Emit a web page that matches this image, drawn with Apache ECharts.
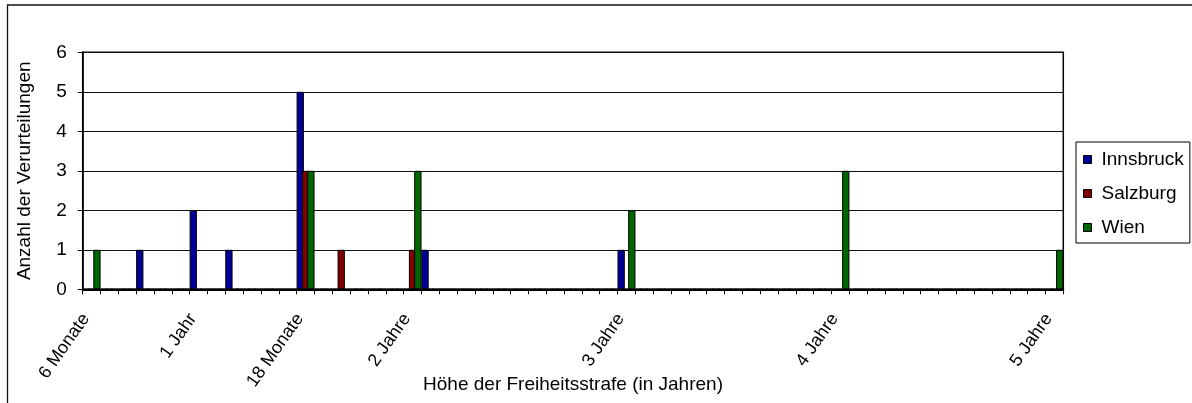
<!DOCTYPE html>
<html>
<head>
<meta charset="utf-8">
<script src="https://cdn.jsdelivr.net/npm/echarts@6/dist/echarts.min.js"></script>
<style>
html,body{margin:0;padding:0;background:#fff;}
#chart{width:1192px;height:403px;}
</style>
</head>
<body>
<div id="chart"></div>
<script>
// Categories: sentence length in months
const months = [6,7,8,9,10,11,12,13,14,15,16,17,18,19,20,21,22,23,24,25,26,27,28,29,30,31,32,33,34,35,36,37,38,39,40,41,42,43,44,45,46,47,48,49,50,51,52,53,54,55,56,57,58,59,60];
// Tick labels shown on the category axis
const labelMonths = [6,12,18,24,36,48,60];
const labelTexts = ['6 Monate','1 Jahr','18 Monate','2 Jahre','3 Jahre','4 Jahre','5 Jahre'];
// Series values (one per month category)
const innsbruck = [0,0,0,1,0,0,2,0,1,0,0,0,5,0,0,0,0,0,0,1,0,0,0,0,0,0,0,0,0,0,1,0,0,0,0,0,0,0,0,0,0,0,0,0,0,0,0,0,0,0,0,0,0,0,0];
const salzburg  = [0,0,0,0,0,0,0,0,0,0,0,0,3,0,1,0,0,0,1,0,0,0,0,0,0,0,0,0,0,0,0,0,0,0,0,0,0,0,0,0,0,0,0,0,0,0,0,0,0,0,0,0,0,0,0];
const wien      = [1,0,0,0,0,0,0,0,0,0,0,0,3,0,0,0,0,0,3,0,0,0,0,0,0,0,0,0,0,0,2,0,0,0,0,0,0,0,0,0,0,0,3,0,0,0,0,0,0,0,0,0,0,0,1];
const seriesNames = ['Innsbruck','Salzburg','Wien'];
const seriesColors = ['#000099','#800000','#006600'];
const yTicks = [0,1,2,3,4,5,6];

const FONT = "'Liberation Sans', Arial, sans-serif";
const chart = echarts.init(document.getElementById('chart'), null, {renderer:'canvas'});
const valuesList = [innsbruck, salzburg, wien];

chart.setOption({
  animation: false,
  backgroundColor: '#fff',
  textStyle: {fontFamily: FONT, color: '#000'},
  graphic: [{
    type: 'rect', silent: true, z: -10,
    shape: {x: 7.5, y: 5, width: 1300, height: 500},
    style: {fill: 'none', stroke: '#111', lineWidth: 1.3}
  }],
  grid: {
    left: 82.7, right: 128.7, top: 52.3, bottom: 113.7,
    containLabel: false,
    outerBoundsMode: 'none',
    show: true, borderColor: '#000', borderWidth: 1.5, backgroundColor: '#fff'
  },
  legend: {
    orient: 'vertical',
    left: 1076, top: 142,
    data: seriesNames,
    icon: 'rect',
    itemWidth: 8, itemHeight: 8,
    itemGap: 15,
    padding: [8, 6, 6, 7],
    backgroundColor: '#fff',
    borderColor: '#000', borderWidth: 1,
    itemStyle: {borderColor: '#000', borderWidth: 1},
    textStyle: {fontFamily: FONT, fontSize: 19, color: '#000', padding: [0,0,0,5]}
  },
  xAxis: {
    type: 'category',
    data: months,
    name: 'Höhe der Freiheitsstrafe (in Jahren)',
    nameLocation: 'middle',
    nameGap: 86,
    nameMoveOverlap: false,
    nameTextStyle: {fontFamily: FONT, fontSize: 19, color: '#000'},
    axisLine: {show: true, lineStyle: {color: '#000', width: 2}},
    axisTick: {show: true, interval: 0, alignWithLabel: false, length: 5, lineStyle: {color: '#000', width: 1}},
    axisLabel: {
      interval: 0, rotate: 55, margin: 18,
      hideOverlap: false,
      padding: [0, 10, 0, 0],
      fontFamily: FONT, fontSize: 18, color: '#000',
      formatter: function (v) {
        const i = labelMonths.indexOf(Number(v));
        return i >= 0 ? labelTexts[i] : '';
      }
    },
    splitLine: {show: false}
  },
  yAxis: {
    type: 'value',
    min: yTicks[0], max: yTicks[yTicks.length - 1], interval: 1,
    name: 'Anzahl der Verurteilungen',
    nameLocation: 'middle',
    nameGap: 48,
    nameMoveOverlap: false,
    nameTextStyle: {fontFamily: FONT, fontSize: 19, color: '#000'},
    axisLine: {show: true, lineStyle: {color: '#000', width: 1.5}},
    axisTick: {show: true, length: 5, lineStyle: {color: '#000', width: 1}},
    axisLabel: {margin: 16, fontFamily: FONT, fontSize: 19, color: '#000'},
    splitLine: {show: true, lineStyle: {color: '#111', width: 1}}
  },
  series: seriesNames.map(function (name, k) {
    return {
      name: name,
      type: 'bar',
      data: valuesList[k],
      barWidth: 7.3,
      barGap: '-27%',
      itemStyle: {color: seriesColors[k], borderColor: '#000', borderWidth: 1}
    };
  })
});
</script>
</body>
</html>
